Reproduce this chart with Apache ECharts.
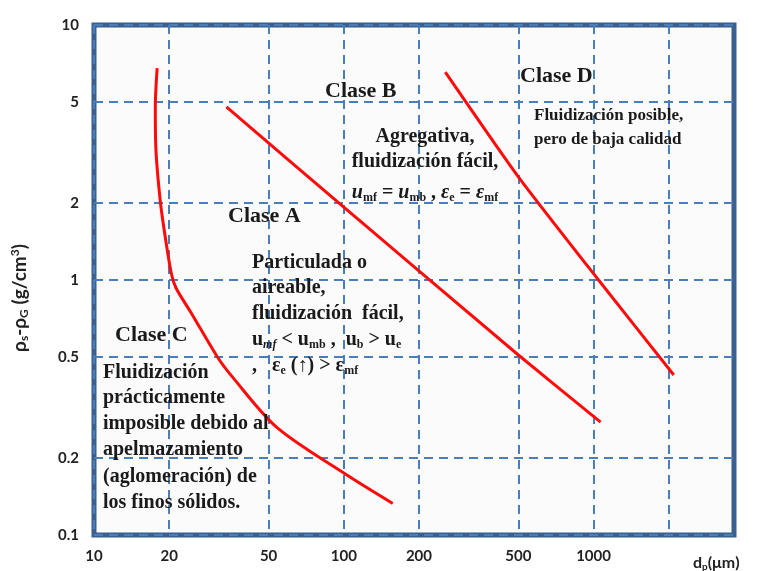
<!DOCTYPE html>
<html>
<head>
<meta charset="utf-8">
<script src="https://cdn.jsdelivr.net/npm/echarts@6/dist/echarts.min.js"></script>
<style>
html,body{margin:0;padding:0;background:#ffffff;}
#chart{width:757px;height:571px;}
</style>
</head>
<body>
<div id="chart"></div>
<script>
// Tick labels / grid values
const dpLabels = [10, 20, 50, 100, 200, 500, 1000];
const dpGridValues = [10, 20, 50, 100, 200, 500, 1000, 2000];
const rhoLabels = [0.1, 0.2, 0.5, 1, 2, 5, 10];

// Boundary C / A
const curveC_dp  = [17.9, 17.6, 17.7, 18.4, 19.1, 20.4, 21.3, 24.5, 31.2, 35.8, 53.8, 100, 157];
const curveC_rho = [6.78, 4.77, 3.24, 2.06, 1.57, 1.06, 0.93, 0.743, 0.499, 0.417, 0.265, 0.175, 0.133];
// Boundary A / B
const curveAB_dp  = [33.9, 100, 500, 1067];
const curveAB_rho = [4.77, 1.93, 0.508, 0.277];
// Boundary B / D
const curveBD_dp  = [255, 500, 1047, 2095];
const curveBD_rho = [6.54, 2.54, 1.0, 0.424];

const pairs = (xs, ys) => xs.map((x, i) => [x, ys[i]]);

const chart = echarts.init(document.getElementById('chart'), null, {renderer: 'canvas'});

const serif = "'Liberation Serif', 'Times New Roman', serif";
const sans = "Lato, 'Open Sans', sans-serif";
const txtColor = '#1a1a1a';

function label(x, y, text, size, align) {
  const sub = Math.round(size * 0.62);
  const pad = Math.round(size * 0.45);
  return {
    type: 'text', x: x, y: y, z: 100,
    style: {
      text: text,
      font: 'bold ' + size + 'px ' + serif,
      fill: txtColor,
      align: align || 'left',
      verticalAlign: 'middle',
      rich: {
        i: {fontFamily: serif, fontWeight: 'bold', fontStyle: 'italic', fontSize: size, fill: txtColor},
        s: {fontFamily: serif, fontWeight: 'bold', fontSize: sub, fill: txtColor, verticalAlign: 'bottom', padding: [pad, 0, 0, 0]},
        si: {fontFamily: serif, fontWeight: 'bold', fontStyle: 'italic', fontSize: sub, fill: txtColor, verticalAlign: 'bottom', padding: [pad, 0, 0, 0]}
      }
    }
  };
}

const redLine = {type: 'line', showSymbol: false, symbol: 'none', lineStyle: {color: '#ff0a0a', width: 3}, z: 5, animation: false};

chart.setOption({
  animation: false,
  backgroundColor: '#ffffff',
  grid: {
    left: 94, right: 23, top: 25, bottom: 36,
    show: true, backgroundColor: '#fbfbfb', borderColor: '#3b5f8e', borderWidth: 5,
    containLabel: false
  },
  xAxis: {
    type: 'log', logBase: 10, min: 10, max: 3650,
    axisLine: {show: false},
    axisTick: {show: false, customValues: dpGridValues},
    axisLabel: {
      customValues: dpLabels, margin: 14,
      formatter: v => String(v),
      fontFamily: sans, fontWeight: 'bold', fontSize: 15, color: '#222'
    },
    splitLine: {show: true, lineStyle: {color: '#4a7ebb', width: 2, type: [9, 6]}}
  },
  yAxis: {
    type: 'log', logBase: 10, min: 0.1, max: 10,
    axisLine: {show: false},
    axisTick: {show: false, customValues: rhoLabels},
    axisLabel: {
      customValues: rhoLabels, margin: 15,
      formatter: v => String(v),
      fontFamily: sans, fontWeight: 'bold', fontSize: 15, color: '#222'
    },
    splitLine: {show: true, lineStyle: {color: '#4a7ebb', width: 2, type: [9, 6]}}
  },
  series: [
    Object.assign({}, redLine, {name: 'C-A', data: pairs(curveC_dp, curveC_rho), smooth: 0.3}),
    Object.assign({}, redLine, {name: 'A-B', data: pairs(curveAB_dp, curveAB_rho), smooth: 0.2}),
    Object.assign({}, redLine, {name: 'B-D', data: pairs(curveBD_dp, curveBD_rho), smooth: 0.2})
  ],
  graphic: [
    // axis names
    {
      type: 'text', x: 693, y: 563, z: 100,
      style: {
        text: 'd{s|p}(μm)', font: 'bold 16px ' + sans, fill: '#222', verticalAlign: 'middle',
        rich: {s: {fontFamily: sans, fontWeight: 'bold', fontSize: 10, fill: '#222', verticalAlign: 'bottom', padding: [7,0,0,0]}}
      }
    },
    {
      type: 'text', x: 20, y: 298, rotation: Math.PI / 2, z: 100,
      style: {
        text: 'ρ{s|s}-ρ{s|G} (g/cm{p|3})', font: 'bold 19px ' + sans, fill: '#222',
        align: 'center', verticalAlign: 'middle',
        rich: {
          s: {fontFamily: sans, fontWeight: 'bold', fontSize: 12, fill: '#222', verticalAlign: 'bottom', padding: [9,0,0,0]},
          p: {fontFamily: sans, fontWeight: 'bold', fontSize: 12, fill: '#222', verticalAlign: 'top', padding: [0,0,9,0]}
        }
      }
    },
    // Clase B
    label(325, 91, 'Clase B', 22),
    label(425, 137, 'Agregativa,', 20, 'center'),
    label(425, 162, 'fluidización fácil,', 20, 'center'),
    label(425, 193, '{i|u}{s|mf} = {i|u}{s|mb} , {i|ε}{s|e} = {i|ε}{s|mf}', 20, 'center'),
    // Clase A
    label(228, 216, 'Clase A', 22),
    label(252, 263, 'Particulada o', 20),
    label(252, 288, 'aireable,', 20),
    label(252, 314, 'fluidización  fácil,', 20),
    label(252, 340, 'u{si|mf} < u{s|mb} ,  u{s|b} > u{s|e}', 20),
    label(252, 366, ',   ε{s|e} (↑) > ε{s|mf}', 20),
    // Clase C
    label(115, 335, 'Clase C', 22),
    label(103, 373, 'Fluidización', 20),
    label(103, 398, 'prácticamente', 20),
    label(103, 424, 'imposible debido al', 20),
    label(103, 450, 'apelmazamiento', 20),
    label(103, 477, '(aglomeración) de', 20),
    label(103, 503, 'los finos sólidos.', 20),
    // Clase D
    label(520, 76, 'Clase D', 22),
    label(534, 116, 'Fluidización posible,', 17),
    label(534, 140, 'pero de baja calidad', 17)
  ]
});
</script>
</body>
</html>
